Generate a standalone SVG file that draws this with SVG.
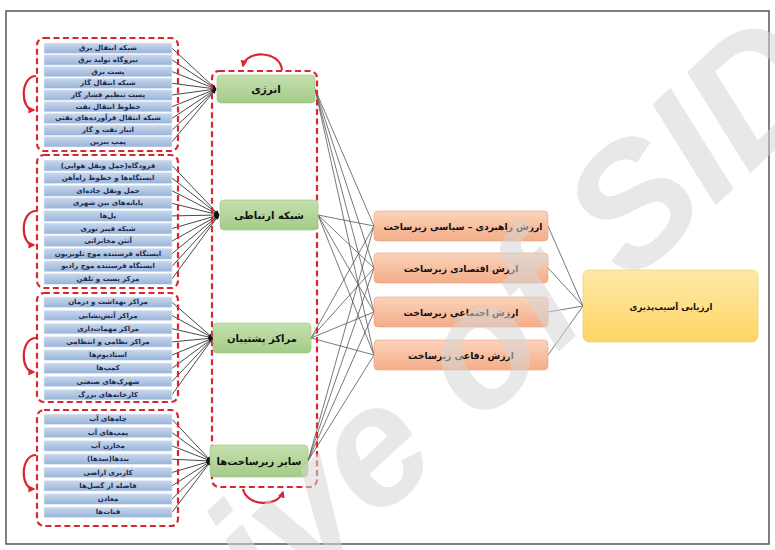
<svg xmlns="http://www.w3.org/2000/svg" width="775" height="550" viewBox="0 0 775 550">
<style>
.frame{fill:#fff;stroke:#555;stroke-width:1.5}
.grp{fill:none;stroke:#d7282f;stroke-width:2.2;stroke-dasharray:6 3.5}
.item{fill:url(#gBlue);stroke:#e8eef7;stroke-width:0.6}
.itx{font-family:"DejaVu Sans",sans-serif;font-weight:bold;font-size:7px;fill:#1d2a4a;direction:rtl;text-anchor:middle;dominant-baseline:central}
.gbox{fill:url(#gGreen);stroke:#9cc27f;stroke-width:0.6}
.obox{fill:url(#gOrange);stroke:#eaa27a;stroke-width:0.6}
.ybox{fill:url(#gYellow);stroke:#efc75a;stroke-width:0.6}
.btx{font-family:"DejaVu Sans",sans-serif;font-weight:bold;fill:#111;direction:rtl;text-anchor:middle;dominant-baseline:central}
.cl{stroke:#1a1a1a;stroke-width:0.8;fill:none}
.cr{stroke:#555;stroke-width:0.8;fill:none}
.rarc{fill:none;stroke:#d7282f;stroke-width:2.2}
.wm{font-family:"Liberation Sans",sans-serif;font-weight:bold;font-style:italic;font-size:170px;fill:#d6d6d6;opacity:0.55}
</style>
<defs>
<linearGradient id="gBlue" x1="0" y1="0" x2="0" y2="1"><stop offset="0" stop-color="#c9d8ec"/><stop offset="1" stop-color="#98b4da"/></linearGradient>
<linearGradient id="gGreen" x1="0" y1="0" x2="0" y2="1"><stop offset="0" stop-color="#c5e0ae"/><stop offset="1" stop-color="#a3cc88"/></linearGradient>
<linearGradient id="gOrange" x1="0" y1="0" x2="0" y2="1"><stop offset="0" stop-color="#fbd3bb"/><stop offset="1" stop-color="#f4ad88"/></linearGradient>
<linearGradient id="gYellow" x1="0" y1="0" x2="0" y2="1"><stop offset="0" stop-color="#ffe9a8"/><stop offset="1" stop-color="#ffd665"/></linearGradient>
<marker id="ah" viewBox="0 0 10 10" refX="9" refY="5" markerWidth="5" markerHeight="5" orient="auto" markerUnits="userSpaceOnUse"><path d="M0,1 L10,5 L0,9 z" fill="#111"/></marker>
<marker id="ra" viewBox="0 0 10 10" refX="8" refY="5" markerWidth="7" markerHeight="7" orient="auto" markerUnits="userSpaceOnUse"><path d="M0,0 L10,5 L0,10 z" fill="#d7282f"/></marker>
</defs>
<rect class="frame" x="6" y="11" width="763" height="533"/>

<g id="connectors">
<g id="c-energy">
<path class="cl" marker-end="url(#ah)" d="M172,48.2 L216,89"/>
<path class="cl" marker-end="url(#ah)" d="M172,59.9 L216,89"/>
<path class="cl" marker-end="url(#ah)" d="M172,71.6 L216,89"/>
<path class="cl" marker-end="url(#ah)" d="M172,83.3 L216,89"/>
<path class="cl" marker-end="url(#ah)" d="M172,95 L216,89"/>
<path class="cl" marker-end="url(#ah)" d="M172,106.7 L216,89"/>
<path class="cl" marker-end="url(#ah)" d="M172,118.4 L216,89"/>
<path class="cl" marker-end="url(#ah)" d="M172,130.1 L216,89"/>
<path class="cl" marker-end="url(#ah)" d="M172,141.8 L216,89"/>
</g>
<g id="c-comm">
<path class="cl" marker-end="url(#ah)" d="M172,165.5 L219,215"/>
<path class="cl" marker-end="url(#ah)" d="M172,178.1 L219,215"/>
<path class="cl" marker-end="url(#ah)" d="M172,190.7 L219,215"/>
<path class="cl" marker-end="url(#ah)" d="M172,203.3 L219,215"/>
<path class="cl" marker-end="url(#ah)" d="M172,215.9 L219,215"/>
<path class="cl" marker-end="url(#ah)" d="M172,228.5 L219,215"/>
<path class="cl" marker-end="url(#ah)" d="M172,241.1 L219,215"/>
<path class="cl" marker-end="url(#ah)" d="M172,253.7 L219,215"/>
<path class="cl" marker-end="url(#ah)" d="M172,266.3 L219,215"/>
<path class="cl" marker-end="url(#ah)" d="M172,278.9 L219,215"/>
</g>
<g id="c-support">
<path class="cl" marker-end="url(#ah)" d="M172,302.3 L213,338"/>
<path class="cl" marker-end="url(#ah)" d="M172,315.5 L213,338"/>
<path class="cl" marker-end="url(#ah)" d="M172,328.7 L213,338"/>
<path class="cl" marker-end="url(#ah)" d="M172,341.9 L213,338"/>
<path class="cl" marker-end="url(#ah)" d="M172,355.1 L213,338"/>
<path class="cl" marker-end="url(#ah)" d="M172,368.3 L213,338"/>
<path class="cl" marker-end="url(#ah)" d="M172,381.5 L213,338"/>
<path class="cl" marker-end="url(#ah)" d="M172,394.7 L213,338"/>
</g>
<g id="c-other">
<path class="cl" marker-end="url(#ah)" d="M172,419.3 L211,461"/>
<path class="cl" marker-end="url(#ah)" d="M172,432.6 L211,461"/>
<path class="cl" marker-end="url(#ah)" d="M172,445.9 L211,461"/>
<path class="cl" marker-end="url(#ah)" d="M172,459.2 L211,461"/>
<path class="cl" marker-end="url(#ah)" d="M172,472.5 L211,461"/>
<path class="cl" marker-end="url(#ah)" d="M172,485.8 L211,461"/>
<path class="cl" marker-end="url(#ah)" d="M172,499.1 L211,461"/>
<path class="cl" marker-end="url(#ah)" d="M172,512.4 L211,461"/>
</g>
<g id="c-values">
<path class="cr" d="M315,89 L374,226 M315,89 L374,268 M315,89 L374,312 M315,89 L374,355"/>
<path class="cr" d="M318,215 L374,226 M318,215 L374,268 M318,215 L374,312 M318,215 L374,355"/>
<path class="cr" d="M311,338 L374,226 M311,338 L374,268 M311,338 L374,312 M311,338 L374,355"/>
<path class="cr" d="M308,461 L374,226 M308,461 L374,268 M308,461 L374,312 M308,461 L374,355"/>
</g>
<g id="c-final">
<path class="cr" d="M548,226 L583,306 M548,268 L583,306 M548,312 L583,306 M548,355 L583,306"/>
</g>
</g>

<g id="group-energy">
<rect class="grp" x="37" y="38" width="141" height="113" rx="7"/>
<path class="rarc" marker-end="url(#ra)" d="M36,76 C20,76 20,110 34,110"/>
<rect class="item" x="44" y="43" width="128" height="10.4"/><text class="itx" x="108" y="48.2">شبکه انتقال برق</text>
<rect class="item" x="44" y="54.7" width="128" height="10.4"/><text class="itx" x="108" y="59.9">نیروگاه تولید برق</text>
<rect class="item" x="44" y="66.4" width="128" height="10.4"/><text class="itx" x="108" y="71.6">پست برق</text>
<rect class="item" x="44" y="78.1" width="128" height="10.4"/><text class="itx" x="108" y="83.3">شبکه انتقال گاز</text>
<rect class="item" x="44" y="89.8" width="128" height="10.4"/><text class="itx" x="108" y="95">پست تنظیم فشار گاز</text>
<rect class="item" x="44" y="101.5" width="128" height="10.4"/><text class="itx" x="108" y="106.7">خطوط انتقال نفت</text>
<rect class="item" x="44" y="113.2" width="128" height="10.4"/><text class="itx" x="108" y="118.4">شبکه انتقال فرآورده‌های نفتی</text>
<rect class="item" x="44" y="124.9" width="128" height="10.4"/><text class="itx" x="108" y="130.1">انبار نفت و گاز</text>
<rect class="item" x="44" y="136.6" width="128" height="10.4"/><text class="itx" x="108" y="141.8">پمپ بنزین</text>
</g>

<g id="group-comm">
<rect class="grp" x="37" y="155" width="141" height="133" rx="7"/>
<path class="rarc" marker-end="url(#ra)" d="M36,211 C20,211 20,245 34,245"/>
<rect class="item" x="44" y="160" width="128" height="11"/><text class="itx" x="108" y="165.5">فرودگاه(حمل ونقل هوایی)</text>
<rect class="item" x="44" y="172.6" width="128" height="11"/><text class="itx" x="108" y="178.1">ایستگاه‌ها و خطوط راه‌آهن</text>
<rect class="item" x="44" y="185.2" width="128" height="11"/><text class="itx" x="108" y="190.7">حمل ونقل جاده‌ای</text>
<rect class="item" x="44" y="197.8" width="128" height="11"/><text class="itx" x="108" y="203.3">پایانه‌های بین شهری</text>
<rect class="item" x="44" y="210.4" width="128" height="11"/><text class="itx" x="108" y="215.9">پل‌ها</text>
<rect class="item" x="44" y="223" width="128" height="11"/><text class="itx" x="108" y="228.5">شبکه فیبر نوری</text>
<rect class="item" x="44" y="235.6" width="128" height="11"/><text class="itx" x="108" y="241.1">آنتن مخابراتی</text>
<rect class="item" x="44" y="248.2" width="128" height="11"/><text class="itx" x="108" y="253.7">ایستگاه فرستنده موج تلویزیون</text>
<rect class="item" x="44" y="260.8" width="128" height="11"/><text class="itx" x="108" y="266.3">ایستگاه فرستنده موج رادیو</text>
<rect class="item" x="44" y="273.4" width="128" height="11"/><text class="itx" x="108" y="278.9">مرکز پست و تلفن</text>
</g>

<g id="group-support">
<rect class="grp" x="37" y="293" width="141" height="109" rx="7"/>
<path class="rarc" marker-end="url(#ra)" d="M36,338 C20,338 20,372 34,372"/>
<rect class="item" x="44" y="297" width="128" height="10.5"/><text class="itx" x="108" y="302.3">مراکز بهداشت و درمان</text>
<rect class="item" x="44" y="310.2" width="128" height="10.5"/><text class="itx" x="108" y="315.5">مراکز آتش‌نشانی</text>
<rect class="item" x="44" y="323.4" width="128" height="10.5"/><text class="itx" x="108" y="328.7">مراکز مهمات‌داری</text>
<rect class="item" x="44" y="336.6" width="128" height="10.5"/><text class="itx" x="108" y="341.9">مراکز نظامی و انتظامی</text>
<rect class="item" x="44" y="349.8" width="128" height="10.5"/><text class="itx" x="108" y="355.1">استادیوم‌ها</text>
<rect class="item" x="44" y="363" width="128" height="10.5"/><text class="itx" x="108" y="368.3">کمپ‌ها</text>
<rect class="item" x="44" y="376.2" width="128" height="10.5"/><text class="itx" x="108" y="381.5">شهرک‌های صنعتی</text>
<rect class="item" x="44" y="389.4" width="128" height="10.5"/><text class="itx" x="108" y="394.7">کارخانه‌های بزرگ</text>
</g>

<g id="group-other">
<rect class="grp" x="37" y="410" width="141" height="116" rx="7"/>
<path class="rarc" marker-end="url(#ra)" d="M36,455 C20,455 20,489 34,489"/>
<rect class="item" x="44" y="414" width="128" height="10.5"/><text class="itx" x="108" y="419.3">چاه‌های آب</text>
<rect class="item" x="44" y="427.3" width="128" height="10.5"/><text class="itx" x="108" y="432.6">پمپ‌های آب</text>
<rect class="item" x="44" y="440.6" width="128" height="10.5"/><text class="itx" x="108" y="445.9">مخازن آب</text>
<rect class="item" x="44" y="453.9" width="128" height="10.5"/><text class="itx" x="108" y="459.2">بندها(سدها)</text>
<rect class="item" x="44" y="467.2" width="128" height="10.5"/><text class="itx" x="108" y="472.5">کاربری اراضی</text>
<rect class="item" x="44" y="480.5" width="128" height="10.5"/><text class="itx" x="108" y="485.8">فاصله از گسل‌ها</text>
<rect class="item" x="44" y="493.8" width="128" height="10.5"/><text class="itx" x="108" y="499.1">معادن</text>
<rect class="item" x="44" y="507.1" width="128" height="10.5"/><text class="itx" x="108" y="512.4">قنات‌ها</text>
</g>

<g id="categories">
<rect class="grp" x="212" y="71" width="105" height="416" rx="7"/>
<path class="rarc" marker-end="url(#ra)" d="M282,70 C280,50 246,50 243,66"/>
<path class="rarc" marker-end="url(#ra)" d="M243,489 C247,507 278,507 283,492"/>
</g>
<g id="node-energy"><rect class="gbox" x="217" y="75" width="98" height="28" rx="4"/><text class="btx" x="266" y="89" font-size="10.5">انرژی</text></g>
<g id="node-comm"><rect class="gbox" x="220" y="200" width="98" height="30" rx="4"/><text class="btx" x="269" y="215" font-size="10">شبکه ارتباطی</text></g>
<g id="node-support"><rect class="gbox" x="213" y="323" width="98" height="30" rx="4"/><text class="btx" x="262" y="338" font-size="10">مراکز پشتیبان</text></g>
<g id="node-other"><rect class="gbox" x="210" y="445" width="98" height="32" rx="4"/><text class="btx" x="259" y="461" font-size="10">سایر زیرساخت‌ها</text></g>

<g id="node-v1"><rect class="obox" x="374" y="211" width="174" height="30" rx="4"/><text class="btx" x="463" y="226" font-size="9.2">ارزش راهبردی – سیاسی زیرساخت</text></g>
<g id="node-v2"><rect class="obox" x="374" y="253" width="174" height="30" rx="4"/><text class="btx" x="461" y="268" font-size="9.2">ارزش اقتصادی زیرساخت</text></g>
<g id="node-v3"><rect class="obox" x="374" y="297" width="174" height="30" rx="4"/><text class="btx" x="461" y="312" font-size="9.2">ارزش اجتماعی زیرساخت</text></g>
<g id="node-v4"><rect class="obox" x="374" y="340" width="174" height="30" rx="4"/><text class="btx" x="461" y="355" font-size="9.2">ارزش دفاعی زیرساخت</text></g>

<g id="node-final"><rect class="ybox" x="583" y="270" width="175" height="72" rx="6"/><text class="btx" x="671" y="307" font-size="8.6">ارزیابی آسیب‌پذیری</text></g>

<text class="wm" transform="translate(-12,884) rotate(-43)">Archive of SID</text>
</svg>
